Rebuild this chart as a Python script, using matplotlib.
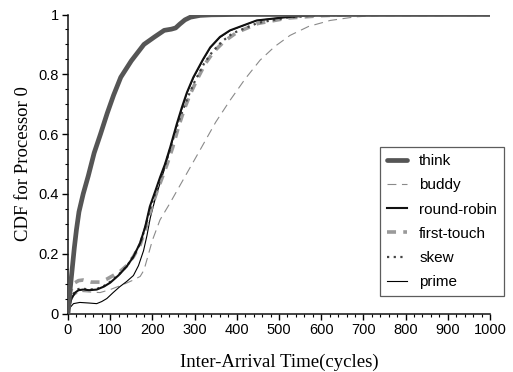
import matplotlib
matplotlib.use("Agg")
import matplotlib.pyplot as plt
from matplotlib.ticker import MultipleLocator, FuncFormatter

# ---- data ----
think_x = [0, 5, 10, 15, 20, 26, 36, 48, 62, 77, 93, 108, 125, 150, 180, 205, 228, 245, 255, 265, 277, 290, 313, 340, 400, 500, 1000]
think_y = [0, 0.08, 0.15, 0.22, 0.28, 0.34, 0.40, 0.46, 0.537, 0.60, 0.67, 0.73, 0.79, 0.845, 0.90, 0.925, 0.947, 0.951, 0.955, 0.968, 0.982, 0.991, 0.997, 0.999, 1, 1, 1]

buddy_x = [0, 5, 13, 28, 50, 76, 100, 131, 155, 171, 180, 187, 200, 218, 242, 270, 313, 350, 384, 420, 455, 490, 526, 570, 621, 680, 750, 800, 1000]
buddy_y = [0, 0.03, 0.06, 0.074, 0.072, 0.07, 0.08, 0.097, 0.112, 0.124, 0.145, 0.18, 0.245, 0.313, 0.37, 0.44, 0.547, 0.64, 0.713, 0.785, 0.847, 0.893, 0.93, 0.96, 0.98, 0.992, 0.998, 1, 1]

rr_x = [0, 8, 17, 25, 36, 50, 68, 85, 100, 120, 139, 155, 171, 183, 194, 207, 218, 230, 242, 258, 270, 282, 297, 320, 337, 360, 384, 447, 510, 580, 1000]
rr_y = [0, 0.05, 0.07, 0.078, 0.08, 0.078, 0.08, 0.09, 0.103, 0.128, 0.157, 0.19, 0.236, 0.29, 0.358, 0.41, 0.455, 0.50, 0.555, 0.635, 0.69, 0.74, 0.79, 0.85, 0.89, 0.925, 0.947, 0.98, 0.99, 0.998, 1]

ft_x = [0, 5, 13, 25, 36, 55, 76, 92, 107, 123, 139, 155, 171, 185, 197, 210, 222, 235, 248, 262, 276, 290, 305, 325, 345, 370, 400, 450, 520, 600, 680, 1000]
ft_y = [0, 0.07, 0.10, 0.11, 0.112, 0.105, 0.105, 0.115, 0.127, 0.14, 0.16, 0.19, 0.23, 0.29, 0.35, 0.405, 0.45, 0.50, 0.555, 0.625, 0.685, 0.735, 0.78, 0.835, 0.875, 0.91, 0.94, 0.97, 0.988, 0.996, 1, 1]

skew_x = [0, 8, 17, 25, 36, 50, 68, 85, 100, 120, 139, 155, 171, 183, 195, 207, 218, 230, 242, 258, 272, 286, 300, 322, 342, 365, 390, 450, 520, 600, 1000]
skew_y = [0, 0.055, 0.075, 0.082, 0.083, 0.08, 0.082, 0.092, 0.106, 0.13, 0.158, 0.19, 0.234, 0.288, 0.352, 0.402, 0.447, 0.495, 0.55, 0.625, 0.68, 0.73, 0.775, 0.835, 0.875, 0.91, 0.937, 0.972, 0.99, 0.998, 1]

prime_x = [0, 5, 13, 28, 50, 68, 80, 92, 107, 123, 139, 155, 167, 179, 187, 195, 207, 218, 230, 242, 258, 270, 282, 297, 320, 337, 360, 384, 447, 510, 580, 1000]
prime_y = [0, 0.02, 0.033, 0.037, 0.035, 0.033, 0.04, 0.05, 0.07, 0.09, 0.107, 0.127, 0.16, 0.21, 0.26, 0.32, 0.385, 0.435, 0.49, 0.55, 0.63, 0.685, 0.737, 0.787, 0.848, 0.888, 0.923, 0.946, 0.98, 0.99, 0.998, 1]

x_ticks = [0, 100, 200, 300, 400, 500, 600, 700, 800, 900, 1000]
y_ticks = [0, 0.2, 0.4, 0.6, 0.8, 1]

# ---- figure ----
fig = plt.figure(figsize=(5.13, 3.72), dpi=100)
ax = fig.add_axes([68/513, (372-313.5)/372, 422/513, 299/372])

ax.plot(buddy_x, buddy_y, color="#8a8a8a", lw=0.8, linestyle=(0, (8, 5)), label="buddy", zorder=2)
ax.plot(prime_x, prime_y, color="#000000", lw=0.8, label="prime", zorder=3)
ax.plot(ft_x, ft_y, color="#9a9a9a", lw=2.6, linestyle=(0, (2.5, 2)), label="first-touch", zorder=3)
ax.plot(skew_x, skew_y, color="#444444", lw=1.6, linestyle=(0, (1, 2)), label="skew", zorder=4)
ax.plot(rr_x, rr_y, color="#111111", lw=1.5, label="round-robin", zorder=5)
ax.plot(think_x, think_y, color="#555555", lw=3.4, solid_capstyle="round",
        solid_joinstyle="round", label="think", zorder=6)

ax.set_xlim(0, 1000)
ax.set_ylim(0, 1)
ax.set_xticks(x_ticks)
ax.set_yticks(y_ticks)
ax.xaxis.set_minor_locator(MultipleLocator(20))
ax.yaxis.set_minor_locator(MultipleLocator(0.05))
ax.yaxis.set_major_formatter(FuncFormatter(lambda v, p: "%g" % v))

for s in ["top", "right"]:
    ax.spines[s].set_visible(False)
for s in ["left", "bottom"]:
    ax.spines[s].set_linewidth(1.1)
    ax.spines[s].set_color("#111111")

ax.tick_params(which="major", direction="out", length=4.5, width=1.0, labelsize=10.5, pad=2)
ax.tick_params(which="minor", direction="out", length=2.5, width=0.8)
for lab in ax.get_xticklabels() + ax.get_yticklabels():
    lab.set_family("Liberation Sans")

ax.set_xlabel("Inter-Arrival Time(cycles)", family="Liberation Serif", fontsize=13.5, labelpad=12)
ax.set_ylabel("CDF for Processor 0", family="Liberation Serif", fontsize=13.5, labelpad=5)

h, l = ax.get_legend_handles_labels()
order = ["think", "buddy", "round-robin", "first-touch", "skew", "prime"]
hd = dict(zip(l, h))
leg = ax.legend([hd[k] for k in order], order, loc="lower right",
                bbox_to_anchor=(1.033, 0.058), borderaxespad=0,
                prop={"family": "Liberation Sans", "size": 11},
                frameon=True, fancybox=False, edgecolor="#333333",
                handlelength=1.3, handletextpad=0.8, labelspacing=0.67,
                borderpad=0.45)
leg.get_frame().set_linewidth(0.9)

fig.savefig("out.png", dpi=100)
